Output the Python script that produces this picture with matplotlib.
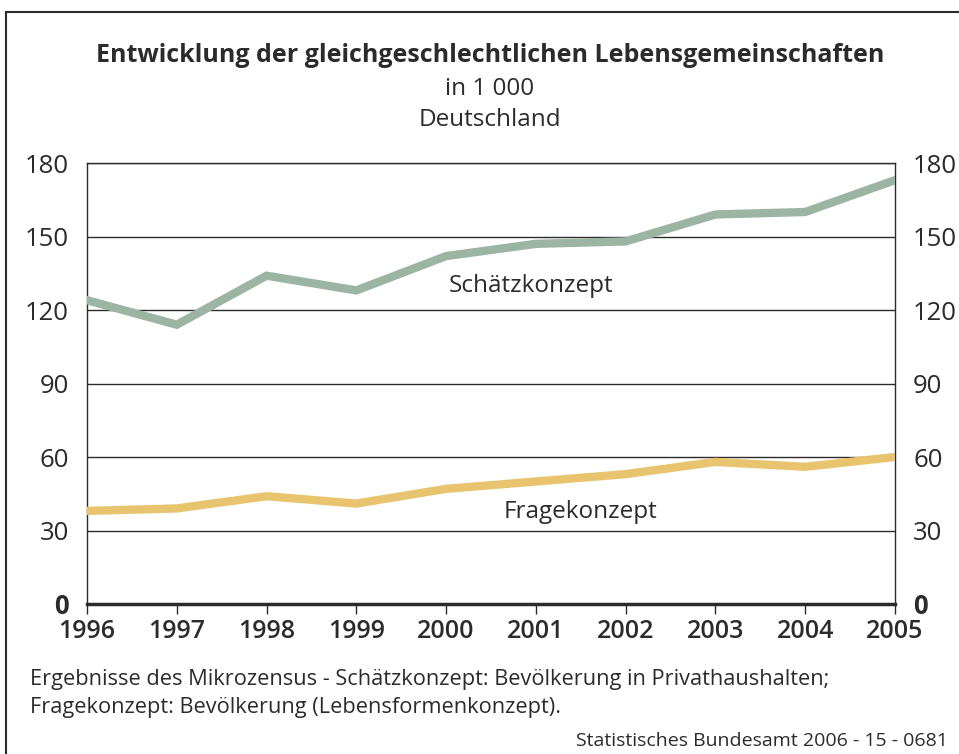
import matplotlib
matplotlib.use('Agg')
import matplotlib.pyplot as plt
from matplotlib.patches import Rectangle

plt.rcParams['font.family'] = ['Open Sans', 'DejaVu Sans']

# Data
years = [1996, 1997, 1998, 1999, 2000, 2001, 2002, 2003, 2004, 2005]
schaetz = [124, 114, 134, 128, 142, 147, 148, 159, 160, 173]
frage = [38, 39, 44, 41, 47, 50, 53, 58, 56, 60]
yticks = [0, 30, 60, 90, 120, 150, 180]

green = '#9bb4a3'
yellow = '#e9c46f'
dark = '#2b2b2b'

fig = plt.figure(figsize = (9.59, 7.54), dpi = 100)
ax = fig.add_axes([87 / 959, 150 / 754, 808 / 959, 441 / 754])

# outer frame (runs off the right and bottom edge)
fig.patches.append(Rectangle((6 / 959, -0.05), 1.1, (754 - 12) / 754 + 0.05,
                             transform = fig.transFigure, fill = False,
                             edgecolor = dark, linewidth = 1.5))

for y in yticks[1:]:
    ax.axhline(y, color = dark, linewidth = 1.0, zorder = 1)

ax.plot(years, schaetz, color = green, linewidth = 6, solid_joinstyle = 'miter', zorder = 3)
ax.plot(years, frage, color = yellow, linewidth = 6, solid_joinstyle = 'miter', zorder = 3)

ax.set_xlim(years[0], years[-1])
ax.set_ylim(0, 180)

for side in ['left', 'right', 'top']:
    ax.spines[side].set_color(dark)
    ax.spines[side].set_linewidth(1.0)
ax.spines['bottom'].set_color(dark)
ax.spines['bottom'].set_linewidth(2.5)

ax.set_xticks(years)
ax.set_xticklabels([str(y) for y in years], fontsize = 18, fontweight = 'semibold', color = dark)
ax.tick_params(axis = 'x', direction = 'out', length = 7, width = 1, color = dark, pad = 4)

ax.set_yticks(yticks)
ax.set_yticklabels([str(y) for y in yticks], fontsize = 18.5, color = dark)
ax.tick_params(axis = 'y', length = 0, pad = 13, labelright = True, right = False)
# bold zero on both sides
zero_tick = ax.yaxis.get_major_ticks()[0]
zero_tick.label1.set_fontweight('bold')
zero_tick.label2.set_fontweight('bold')

ax.text(2000.95, 130, 'Schätzkonzept', fontsize = 17.5, color = dark, ha = 'center', va = 'center')
ax.text(2001.5, 37.5, 'Fragekonzept', fontsize = 17.5, color = dark, ha = 'center', va = 'center')

# titles
fig.text(490 / 959, 1 - 56 / 754, 'Entwicklung der gleichgeschlechtlichen Lebensgemeinschaften',
         fontsize = 18, fontweight = 'bold', ha = 'center', va = 'center', color = dark)
fig.text(490 / 959, 1 - 89 / 754, 'in 1 000', fontsize = 17.5, ha = 'center', va = 'center', color = dark)
fig.text(490 / 959, 1 - 120 / 754, 'Deutschland', fontsize = 17.5, ha = 'center', va = 'center', color = dark)

# footnotes
fig.text(30 / 959, 1 - 680 / 754,
         'Ergebnisse des Mikrozensus - Schätzkonzept: Bevölkerung in Privathaushalten;',
         fontsize = 15.7, ha = 'left', va = 'center', color = dark)
fig.text(30 / 959, 1 - 707 / 754,
         'Fragekonzept: Bevölkerung (Lebensformenkonzept).',
         fontsize = 15.7, ha = 'left', va = 'center', color = dark)
fig.text(948 / 959, 1 - 741 / 754, 'Statistisches Bundesamt 2006 - 15 - 0681',
         fontsize = 14, ha = 'right', va = 'center', color = dark)

fig.savefig('out.png', dpi = 100)
